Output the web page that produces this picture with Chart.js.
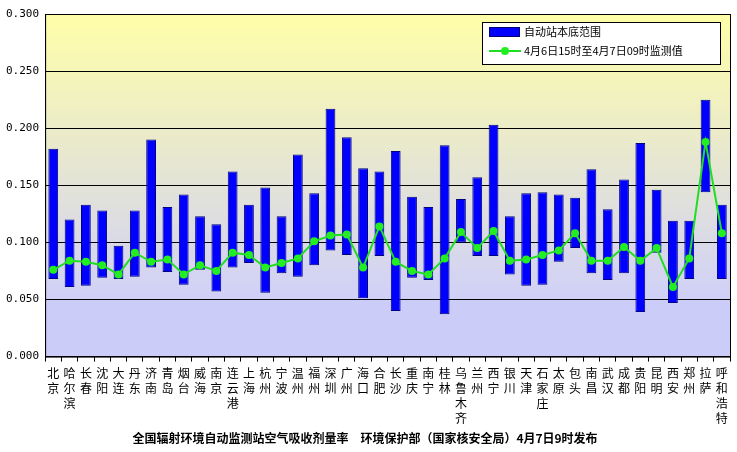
<!DOCTYPE html><html><head><meta charset="utf-8">
<script src="https://cdn.jsdelivr.net/npm/chart.js@4"></script>
<style>body{margin:0;background:#fff}#w{width:737px;height:452px}</style></head><body><div id="w"><canvas id="c"></canvas></div>
<script>
const cities=["北京","哈尔滨","长春","沈阳","大连","丹东","济南","青岛","烟台","威海","南京","连云港","上海","杭州","宁波","温州","福州","深圳","广州","海口","合肥","长沙","重庆","南宁","桂林","乌鲁木齐","兰州","西宁","银川","天津","石家庄","太原","包头","南昌","武汉","成都","贵阳","昆明","西安","郑州","拉萨","呼和浩特"];
const lows=[0.068,0.061,0.062,0.069,0.068,0.070,0.078,0.074,0.063,0.076,0.057,0.078,0.082,0.056,0.073,0.070,0.080,0.093,0.089,0.051,0.088,0.040,0.069,0.067,0.037,0.100,0.088,0.088,0.072,0.062,0.063,0.083,0.095,0.073,0.067,0.073,0.039,0.091,0.047,0.068,0.144,0.068];
const highs=[0.182,0.120,0.133,0.128,0.097,0.128,0.190,0.131,0.142,0.123,0.116,0.162,0.133,0.148,0.123,0.177,0.143,0.217,0.192,0.165,0.162,0.180,0.140,0.131,0.185,0.138,0.157,0.203,0.123,0.143,0.144,0.142,0.139,0.164,0.129,0.155,0.187,0.146,0.119,0.119,0.225,0.133];
const measured=[0.076,0.084,0.083,0.080,0.072,0.091,0.083,0.085,0.072,0.080,0.075,0.091,0.089,0.078,0.082,0.086,0.101,0.106,0.107,0.078,0.114,0.083,0.075,0.072,0.086,0.109,0.095,0.110,0.084,0.085,0.089,0.093,0.108,0.084,0.084,0.096,0.084,0.095,0.061,0.086,0.188,0.108];
const seriesNames=["自动站本底范围","4月6日15时至4月7日09时监测值"];
const bg={id:'bg',beforeDraw(ch){const a=ch.chartArea,y=ch.scales.y,c=ch.ctx;const y05=y.getPixelForValue(0.05);
const g=c.createLinearGradient(0,a.top,0,y05);g.addColorStop(0,'#ffffa8');g.addColorStop(1,'#d0d0f8');
c.save();c.fillStyle=g;c.fillRect(a.left,a.top,a.right-a.left,y05-a.top);c.fillStyle='#ccccf8';c.fillRect(a.left,y05,a.right-a.left,a.bottom-y05);c.restore();},
afterDraw(ch){const a=ch.chartArea,c=ch.ctx;c.save();c.strokeStyle='#000';c.lineWidth=1;c.strokeRect(a.left+0.5,a.top+0.5,a.right-a.left,a.bottom-a.top);
const x=482,y=22,w=238,h=42;c.fillStyle='#fff';c.fillRect(x,y,w,h);c.strokeRect(x+0.5,y+0.5,w,h);
c.fillStyle='#0000ff';c.fillRect(489,27,30,9);c.strokeStyle='#000066';c.strokeRect(489.5,27.5,30,9);
c.strokeStyle='#22dd22';c.lineWidth=2;c.beginPath();c.moveTo(489,51);c.lineTo(521,51);c.stroke();c.fillStyle='#22ee22';c.beginPath();c.arc(505,51,4,0,7);c.fill();
c.fillStyle='#000';c.font='11px "Noto Sans CJK SC"';c.textBaseline='middle';c.fillText(seriesNames[0],524,32);c.fillText(seriesNames[1],524,51);c.restore();}};
new Chart(document.getElementById('c'),{data:{labels:cities.map(s=>s.split('')),datasets:[
{type:'line',label:seriesNames[1],data:measured,borderColor:'#22dd22',backgroundColor:'#22ee22',borderWidth:2,pointRadius:4,pointBorderWidth:0,tension:0,order:0},
{type:'bar',label:seriesNames[0],data:lows.map((l,i)=>[l,highs[i]]),backgroundColor:'#0000ff',borderColor:'#000080',borderWidth:1,borderSkipped:false,barPercentage:0.6,categoryPercentage:1,order:1}]},
plugins:[bg],options:{responsive:true,maintainAspectRatio:false,animation:false,
layout:{padding:{top:14,right:7,left:0,bottom:0}},
plugins:{legend:{display:false},tooltip:{enabled:false},title:{display:true,position:'bottom',text:'全国辐射环境自动监测站空气吸收剂量率　环境保护部（国家核安全局）4月7日9时发布',color:'#000',font:{family:'"Noto Sans CJK SC"',size:12,weight:'bold'},padding:{top:2,bottom:6},align:'center'}},
scales:{x:{offset:true,grid:{display:true,drawOnChartArea:false,offset:true,color:'#000',tickLength:5},border:{color:'#000'},ticks:{color:'#000',maxRotation:0,autoSkip:false,font:{family:'"Noto Sans CJK SC"',size:12,lineHeight:1.25},padding:4}},
y:{min:0,max:0.3,grid:{color:'#000',drawTicks:false},border:{color:'#000'},ticks:{stepSize:0.05,color:'#000',padding:6,font:{family:'"DejaVu Sans Mono"',size:11},callback:v=>v.toFixed(3)}}}}});
</script></body></html>
